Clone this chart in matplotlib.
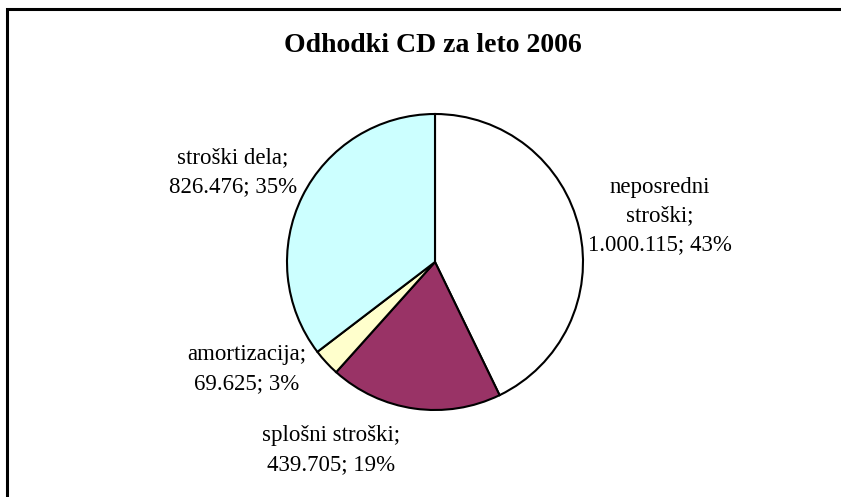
import matplotlib
matplotlib.use("Agg")
import matplotlib.pyplot as plt
from matplotlib.patches import Rectangle

# ---- data ----
categories = ["neposredni\nstroški", "splošni stroški", "amortizacija", "stroški dela"]
values = [1000115, 439705, 69625, 826476]
percents = [43, 19, 3, 35]
value_labels = ["1.000.115", "439.705", "69.625", "826.476"]
colors = ["#FFFFFF", "#993366", "#FFFFCC", "#CCFFFF"]
title = "Odhodki CD za leto 2006"

# ---- layout (pixel space, y measured from top) ----
W, H = 841, 497
pie_center_px = (435, 262)
pie_radius_px = 148
label_pos_px = [(660, 216), (331, 450), (247, 369), (233, 172)]

fig = plt.figure(figsize=(W / 100, H / 100), dpi=100)
ax = fig.add_axes([0, 0, 1, 1])

ax.pie(values, colors=colors, startangle=90, counterclock=False,
       center=(pie_center_px[0], H - pie_center_px[1]), radius=pie_radius_px,
       wedgeprops=dict(edgecolor="black", linewidth=1.5))

serif = ["Liberation Serif", "DejaVu Serif"]
for cat, val, pct, (lx, ly) in zip(categories, value_labels, percents, label_pos_px):
    ax.text(lx, H - ly, f"{cat};\n{val}; {pct}%", ha="center", va="center",
            multialignment="center", fontsize=16.5, family=serif, linespacing=1.5)

ax.text(433, H - 46, title, ha="center", va="center", fontsize=20,
        fontweight="bold", family=serif)

ax.add_patch(Rectangle((7, -30), W + 30, H - 9 + 30, fill=False,
                       edgecolor="black", linewidth=2.2, clip_on=False))

ax.set_xlim(0, W)
ax.set_ylim(0, H)
ax.set_aspect("auto")
ax.axis("off")

fig.savefig("out.png", dpi=100, facecolor="white")
